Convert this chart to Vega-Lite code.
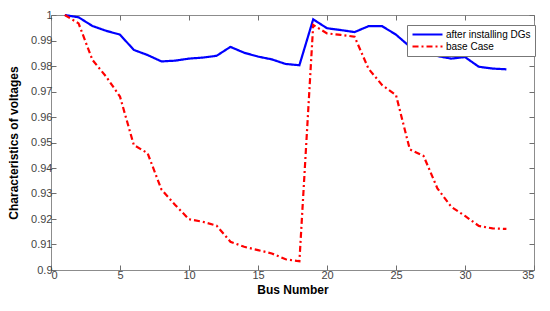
{
  "$schema": "https://vega.github.io/schema/vega-lite/v6.json",
  "width": 483,
  "height": 255,
  "autosize": {"type": "none"},
  "padding": {"left": 51, "top": 15, "right": 16, "bottom": 41},
  "background": "white",
  "config": {
    "view": {"stroke": "#8c8c8c", "strokeWidth": 1},
    "font": "Liberation Sans",
    "axis": {
      "grid": false,
      "domain": false,
      "tickSize": -5,
      "tickColor": "#6e6e6e",
      "labelColor": "#444444",
      "labelFontSize": 11,
      "labelFont": "Liberation Sans",
      "titleFont": "Liberation Sans",
      "titleFontSize": 12,
      "titleFontWeight": "bold",
      "titleColor": "#000000"
    }
  },
  "data": {
    "values": [
      {"bus": 1, "series": "after installing DGs", "v": 1.0},
      {"bus": 2, "series": "after installing DGs", "v": 0.9991},
      {"bus": 3, "series": "after installing DGs", "v": 0.9957},
      {"bus": 4, "series": "after installing DGs", "v": 0.9938},
      {"bus": 5, "series": "after installing DGs", "v": 0.9923},
      {"bus": 6, "series": "after installing DGs", "v": 0.9863},
      {"bus": 7, "series": "after installing DGs", "v": 0.9843},
      {"bus": 8, "series": "after installing DGs", "v": 0.9818},
      {"bus": 9, "series": "after installing DGs", "v": 0.9821},
      {"bus": 10, "series": "after installing DGs", "v": 0.9829},
      {"bus": 11, "series": "after installing DGs", "v": 0.9833},
      {"bus": 12, "series": "after installing DGs", "v": 0.984},
      {"bus": 13, "series": "after installing DGs", "v": 0.9875},
      {"bus": 14, "series": "after installing DGs", "v": 0.9852},
      {"bus": 15, "series": "after installing DGs", "v": 0.9837},
      {"bus": 16, "series": "after installing DGs", "v": 0.9826},
      {"bus": 17, "series": "after installing DGs", "v": 0.9808},
      {"bus": 18, "series": "after installing DGs", "v": 0.9803},
      {"bus": 19, "series": "after installing DGs", "v": 0.9983},
      {"bus": 20, "series": "after installing DGs", "v": 0.9948},
      {"bus": 21, "series": "after installing DGs", "v": 0.9941},
      {"bus": 22, "series": "after installing DGs", "v": 0.9933},
      {"bus": 23, "series": "after installing DGs", "v": 0.9956},
      {"bus": 24, "series": "after installing DGs", "v": 0.9956},
      {"bus": 25, "series": "after installing DGs", "v": 0.9923},
      {"bus": 26, "series": "after installing DGs", "v": 0.9876},
      {"bus": 27, "series": "after installing DGs", "v": 0.9856},
      {"bus": 28, "series": "after installing DGs", "v": 0.9839},
      {"bus": 29, "series": "after installing DGs", "v": 0.9829},
      {"bus": 30, "series": "after installing DGs", "v": 0.9835},
      {"bus": 31, "series": "after installing DGs", "v": 0.9797},
      {"bus": 32, "series": "after installing DGs", "v": 0.979},
      {"bus": 33, "series": "after installing DGs", "v": 0.9787},
      {"bus": 1, "series": "base Case", "v": 1.0},
      {"bus": 2, "series": "base Case", "v": 0.9967},
      {"bus": 3, "series": "base Case", "v": 0.9824},
      {"bus": 4, "series": "base Case", "v": 0.9758},
      {"bus": 5, "series": "base Case", "v": 0.968},
      {"bus": 6, "series": "base Case", "v": 0.949},
      {"bus": 7, "series": "base Case", "v": 0.9458},
      {"bus": 8, "series": "base Case", "v": 0.9316},
      {"bus": 9, "series": "base Case", "v": 0.9255},
      {"bus": 10, "series": "base Case", "v": 0.9199},
      {"bus": 11, "series": "base Case", "v": 0.9189},
      {"bus": 12, "series": "base Case", "v": 0.9174},
      {"bus": 13, "series": "base Case", "v": 0.9111},
      {"bus": 14, "series": "base Case", "v": 0.9091},
      {"bus": 15, "series": "base Case", "v": 0.9078},
      {"bus": 16, "series": "base Case", "v": 0.9065},
      {"bus": 17, "series": "base Case", "v": 0.9042},
      {"bus": 18, "series": "base Case", "v": 0.9034},
      {"bus": 19, "series": "base Case", "v": 0.9961},
      {"bus": 20, "series": "base Case", "v": 0.9928},
      {"bus": 21, "series": "base Case", "v": 0.9922},
      {"bus": 22, "series": "base Case", "v": 0.9915},
      {"bus": 23, "series": "base Case", "v": 0.979},
      {"bus": 24, "series": "base Case", "v": 0.9725},
      {"bus": 25, "series": "base Case", "v": 0.9686},
      {"bus": 26, "series": "base Case", "v": 0.9473},
      {"bus": 27, "series": "base Case", "v": 0.9447},
      {"bus": 28, "series": "base Case", "v": 0.932},
      {"bus": 29, "series": "base Case", "v": 0.9248},
      {"bus": 30, "series": "base Case", "v": 0.9212},
      {"bus": 31, "series": "base Case", "v": 0.9173},
      {"bus": 32, "series": "base Case", "v": 0.9163},
      {"bus": 33, "series": "base Case", "v": 0.9161}
    ]
  },
  "layer": [
    {
      "mark": {"type": "line", "strokeWidth": 2.2},
      "encoding": {
        "x": {
          "field": "bus", "type": "quantitative",
          "scale": {"domain": [0, 35], "nice": false, "zero": false},
          "axis": {"title": "Bus Number", "values": [0,5,10,15,20,25,30,35], "titlePadding": 4, "labelPadding": 4}
        },
        "y": {
          "field": "v", "type": "quantitative",
          "scale": {"domain": [0.9, 1.0], "nice": false, "zero": false},
          "axis": {"title": "Characteristics of voltages", "values": [0.9,0.91,0.92,0.93,0.94,0.95,0.96,0.97,0.98,0.99,1.0], "format": ".2~f", "titlePadding": 10, "labelPadding": 4}
        },
        "color": {
          "field": "series", "type": "nominal",
          "scale": {"domain": ["after installing DGs", "base Case"], "range": ["#0000ff", "#ff0000"]},
          "legend": {
            "title": null,
            "orient": "none",
            "legendX": 356,
            "legendY": 10,
            "symbolType": "stroke",
            "symbolSize": 900,
            "symbolStrokeWidth": 2.2,
            "clipHeight": 11,
            "labelFontSize": 10,
            "labelColor": "#000000",
            "labelFont": "Liberation Sans",
            "rowPadding": 1,
            "padding": 4,
            "strokeColor": "#777777",
            "fillColor": "white",
            "labelOffset": 2
          }
        },
        "strokeDash": {
          "field": "series", "type": "nominal",
          "scale": {"domain": ["after installing DGs", "base Case"], "range": [[1, 0], [6, 3, 2, 3]]},
          "legend": {
            "title": null,
            "orient": "none",
            "legendX": 356,
            "legendY": 10,
            "symbolType": "stroke",
            "symbolSize": 900,
            "symbolStrokeWidth": 2.2,
            "clipHeight": 11,
            "labelFontSize": 10,
            "labelColor": "#000000",
            "labelFont": "Liberation Sans",
            "rowPadding": 1,
            "padding": 4,
            "strokeColor": "#777777",
            "fillColor": "white",
            "labelOffset": 2
          }
        }
      }
    },
    {
      "mark": {"type": "point", "opacity": 0},
      "encoding": {
        "x": {
          "field": "bus", "type": "quantitative",
          "scale": {"domain": [0, 35], "nice": false, "zero": false},
          "axis": {"orient": "top", "title": null, "labels": false, "values": [0,5,10,15,20,25,30,35]}
        },
        "y": {
          "field": "v", "type": "quantitative",
          "scale": {"domain": [0.9, 1.0], "nice": false, "zero": false},
          "axis": {"orient": "right", "title": null, "labels": false, "values": [0.9,0.91,0.92,0.93,0.94,0.95,0.96,0.97,0.98,0.99,1.0]}
        }
      }
    }
  ],
  "resolve": {"axis": {"x": "independent", "y": "independent"}}
}
